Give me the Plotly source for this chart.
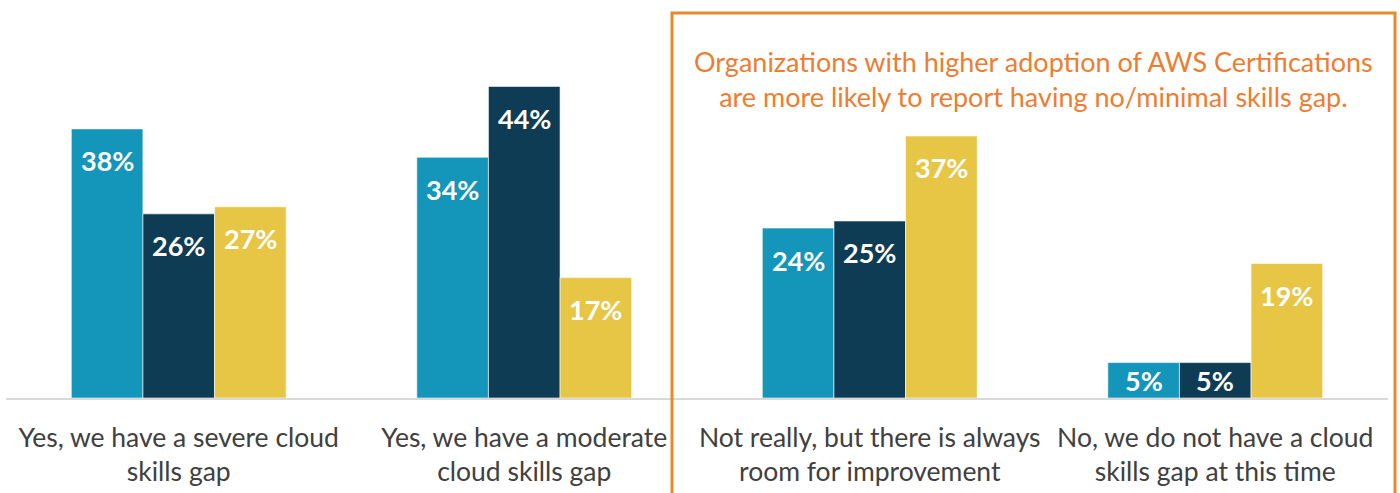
import plotly.graph_objects as go

categories = [
    "Yes, we have a severe cloud<br>skills gap",
    "Yes, we have a moderate<br>cloud skills gap",
    "Not really, but there is always<br>room for improvement",
    "No, we do not have a cloud<br>skills gap at this time",
]
series_a = [38, 34, 24, 5]
series_b = [26, 44, 25, 5]
series_c = [27, 17, 37, 19]
colors = ["#1495BA", "#0E3C55", "#E8C645"]
callout = "Organizations with higher adoption of AWS Certifications<br>are more likely to report having no/minimal skills gap."

W, H = 1400, 493
ML, MR, MT, MB = 6, 12, 0, 95
YMAX = 56.2
BARGAP = 0.378
FONT = "Lato"

fig = go.Figure()
all_series = [series_a, series_b, series_c]
for vals, col in zip(all_series, colors):
    fig.add_trace(go.Bar(
        x=categories, y=vals,
        marker=dict(color=col, line=dict(color="rgba(255,255,255,0.6)", width=1)),
        hoverinfo="skip",
    ))

plot_w = W - ML - MR
plot_h = H - MT - MB
cat_px = plot_w / len(categories)
bar_px = cat_px * (1 - BARGAP) / 3
px_per_unit = plot_h / YMAX

annotations = []
for si, vals in enumerate(all_series):
    for cat, v in zip(categories, vals):
        h = v * px_per_unit
        annotations.append(dict(
            x=cat, y=v, xref="x", yref="y",
            text=f"<b>{v}%</b>", showarrow=False,
            xshift=(si - 1) * bar_px,
            yshift=-min(32, h / 2),
            yanchor="middle",
            font=dict(family=FONT, size=27, color="white"),
        ))

annotations.append(dict(
    x=(1033 - ML) / plot_w, y=(plot_h - 79) / plot_h, xref="paper", yref="paper",
    text=callout, showarrow=False, xanchor="center", yanchor="middle",
    font=dict(family=FONT, size=27, color="#ED7D31"),
))

fig.add_shape(type="rect", xref="paper", yref="paper",
              x0=(672 - ML) / plot_w, x1=(1395 - ML) / plot_w,
              y0=-0.5, y1=(plot_h - 13) / plot_h,
              line=dict(color="#E8892B", width=3), fillcolor="rgba(0,0,0,0)")

fig.update_layout(
    width=W, height=H,
    margin=dict(l=ML, r=MR, t=MT, b=MB),
    barmode="group", bargap=BARGAP, bargroupgap=0,
    plot_bgcolor="white", paper_bgcolor="white",
    showlegend=False,
    annotations=annotations,
    font=dict(family=FONT, color="#404040"),
    xaxis=dict(showline=True, linecolor="#D9D9D9", linewidth=2, ticks="",
               tickfont=dict(family=FONT, size=26.5, color="#404040"),
               ticklabelstandoff=15, fixedrange=True),
    yaxis=dict(range=[0, YMAX], visible=False, showgrid=False, fixedrange=True),
)

fig.write_html("out.html", config={"displayModeBar": False},
               post_script="document.body.style.margin='0';document.body.style.overflow='hidden';")
